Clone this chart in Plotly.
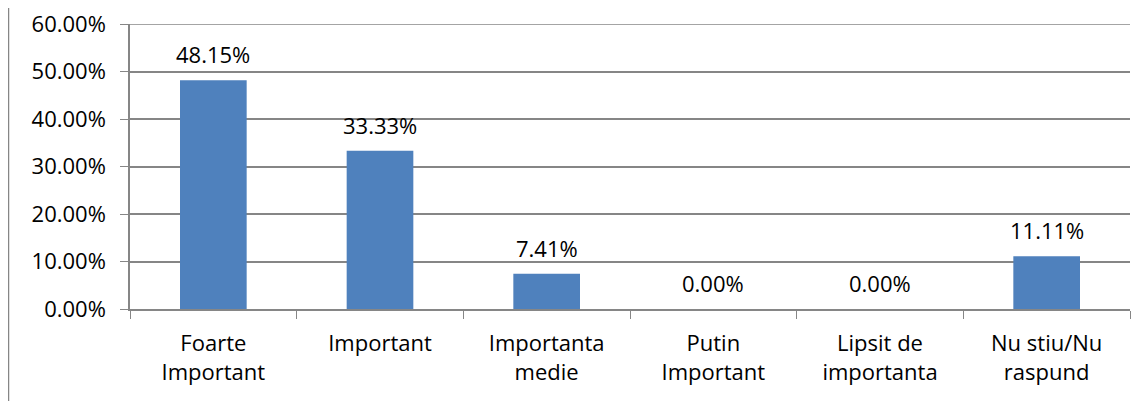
import plotly.graph_objects as go

categories = ["Foarte<br>Important", "Important", "Importanta<br>medie", "Putin<br>Important", "Lipsit de<br>importanta", "Nu stiu/Nu<br>raspund"]
values = [48.15, 33.33, 7.41, 0.00, 0.00, 11.11]
labels = ["48.15%", "33.33%", "7.41%", "0.00%", "0.00%", "11.11%"]
y_ticks = [0, 10, 20, 30, 40, 50, 60]
y_tick_text = ["0.00%", "10.00%", "20.00%", "30.00%", "40.00%", "50.00%", "60.00%"]

FONT = "Open Sans"
FS = 22
GRID = "#868686"
fig = go.Figure(go.Bar(
    x=categories, y=values,
    marker=dict(color="#4F81BD", line=dict(width=0)),
))
for c, v, t in zip(categories, values, labels):
    fig.add_annotation(x=c, y=v, text=t, showarrow=False, yanchor="bottom",
                       yshift=9, font=dict(family=FONT, size=FS, color="#000000"))
fig.update_layout(
    width=1148, height=401,
    margin=dict(l=122, r=26, t=16, b=100, autoexpand=False),
    plot_bgcolor="white", paper_bgcolor="white",
    bargap=0.6, showlegend=False,
    font=dict(family=FONT, size=FS, color="#000000"),
    shapes=[
        dict(type="line", xref="paper", yref="paper", x0=-0.1215, x1=-0.1215, y0=-0.4, y1=1.1,
             line=dict(color=GRID, width=1.5)),
        dict(type="line", xref="paper", yref="y", x0=0, x1=1, y0=y_ticks[-1], y1=y_ticks[-1],
             line=dict(color=GRID, width=1.5), layer="below"),
    ],
)
fig.update_xaxes(showline=True, linecolor=GRID, linewidth=1.5,
                 ticks="outside", tickson="boundaries", ticklen=8, tickcolor=GRID,
                 ticklabelstandoff=14, automargin=False,
                 tickfont=dict(family=FONT, size=FS), showgrid=False)
fig.update_yaxes(range=[0, 60], tickvals=y_ticks, ticktext=y_tick_text,
                 showline=True, linecolor=GRID, linewidth=1.5,
                 ticks="outside", ticklen=8, tickcolor=GRID,
                 showgrid=True, gridcolor=GRID, gridwidth=1.5,
                 zeroline=False, ticklabelstandoff=10, ticklabeloverflow="allow",
                 automargin=False,
                 tickfont=dict(family=FONT, size=FS))
fig.write_html("out.html")
